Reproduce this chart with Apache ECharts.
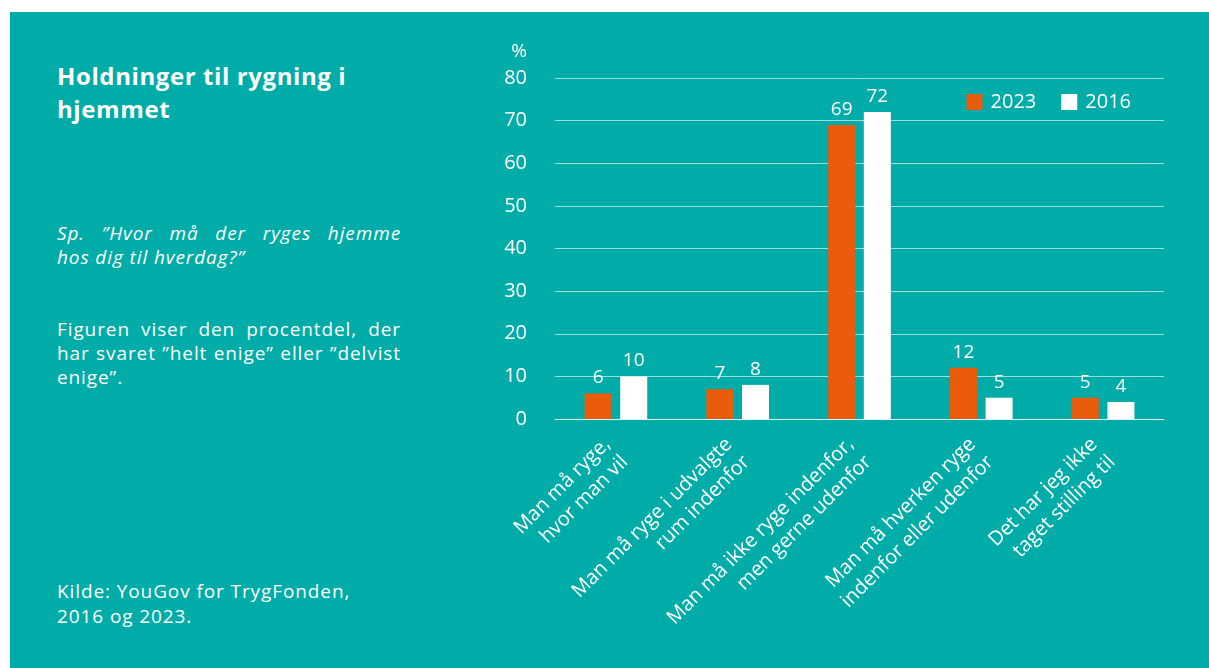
<!DOCTYPE html>
<html lang="da">
<head>
  <meta charset="UTF-8">
  <title>Holdninger til rygning i hjemmet</title>
  <script src="https://cdn.jsdelivr.net/npm/echarts@6/dist/echarts.min.js"></script>
  <style>
    html, body { margin: 0; padding: 0; background: #fff; }
    body { width: 1209px; height: 668px; position: relative; overflow: hidden; font-family: 'Open Sans', 'Noto Sans', sans-serif; color: #fff; }
    .panel { position: absolute; left: 10px; top: 12px; width: 1199px; height: 656px; background: #00ACA8; }
    #chart { position: absolute; left: 0; top: 0; width: 1209px; height: 668px; }
    .txt { position: absolute; left: 57px; width: 344px; }
    .title { top: 59px; font-size: 24px; font-weight: bold; line-height: 33px; letter-spacing: 0.6px; width: 400px; }
    .quest { top: 221px; font-size: 19px; font-style: italic; line-height: 24px; letter-spacing: 0.9px; }
    .desc { top: 317px; font-size: 19px; line-height: 24px; letter-spacing: 0.9px; }
    .src { top: 579px; font-size: 19px; line-height: 25px; letter-spacing: 0.9px; width: 400px; }
    .j { text-align: justify; text-align-last: justify; }
  </style>
</head>
<body>
  <div class="panel"></div>
  <div class="txt title"><div>Holdninger til rygning i</div><div>hjemmet</div></div>
  <div class="txt quest"><div class="j">Sp. ”Hvor må der ryges hjemme</div><div>hos dig til hverdag?”</div></div>
  <div class="txt desc"><div class="j">Figuren viser den procentdel, der</div><div class="j">har svaret ”helt enige” eller ”delvist</div><div>enige”.</div></div>
  <div class="txt src"><div>Kilde: YouGov for TrygFonden,</div><div>2016 og 2023.</div></div>
  <div id="chart"></div>

  <script>
    // data
    const categories = [
      'Man må ryge,\nhvor man vil',
      'Man må ryge i udvalgte\nrum indenfor',
      'Man må ikke ryge indenfor,\nmen gerne udenfor',
      'Man må hverken ryge\nindenfor eller udenfor',
      'Det har jeg ikke\ntaget stilling til'
    ];
    const values2023 = [6, 7, 69, 12, 5];
    const values2016 = [10, 8, 72, 5, 4];

    const font = "'Open Sans', 'Noto Sans', sans-serif";
    const chart = echarts.init(document.getElementById('chart'));

    const option = {
      backgroundColor: 'transparent',
      textStyle: { fontFamily: font, color: '#fff' },
      legend: {
        data: ['2023', '2016'],
        right: 73,
        top: 87,
        itemWidth: 16,
        itemHeight: 16,
        itemGap: 25,
        icon: 'rect',
        textStyle: { color: '#fff', fontSize: 20, fontFamily: font, padding: [0, 0, 0, 3] }
      },
      grid: { left: 555, right: 45, top: 78, bottom: 249 },
      xAxis: {
        type: 'category',
        data: categories,
        axisLine: { show: true, lineStyle: { color: 'rgba(255,255,255,0.6)', width: 1 } },
        axisTick: { show: false },
        axisLabel: {
          interval: 0,
          rotate: 45,
          margin: 31,
          color: '#fff',
          fontSize: 20,
          lineHeight: 25,
          fontFamily: font
        }
      },
      yAxis: {
        type: 'value',
        min: 0,
        max: 80,
        interval: 10,
        name: '%',
        nameLocation: 'end',
        nameGap: 17,
        nameTextStyle: { color: '#fff', fontSize: 19, align: 'right', padding: [0, 28, 0, 0], fontFamily: font },
        axisLine: { show: false },
        axisTick: { show: false },
        axisLabel: { color: '#fff', fontSize: 20, margin: 28, fontFamily: font },
        splitLine: { lineStyle: { color: 'rgba(255,255,255,0.6)', width: 1 } }
      },
      series: [
        {
          name: '2023',
          type: 'bar',
          data: values2023,
          barWidth: 27,
          barGap: '32%',
          itemStyle: { color: '#EA5B0C' },
          label: { show: true, position: 'top', distance: 6, color: '#fff', fontSize: 19, fontFamily: font }
        },
        {
          name: '2016',
          type: 'bar',
          data: values2016,
          barWidth: 27,
          itemStyle: { color: '#ffffff' },
          label: { show: true, position: 'top', distance: 6, color: '#fff', fontSize: 19, fontFamily: font }
        }
      ]
    };

    chart.setOption(option);
  </script>
</body>
</html>
